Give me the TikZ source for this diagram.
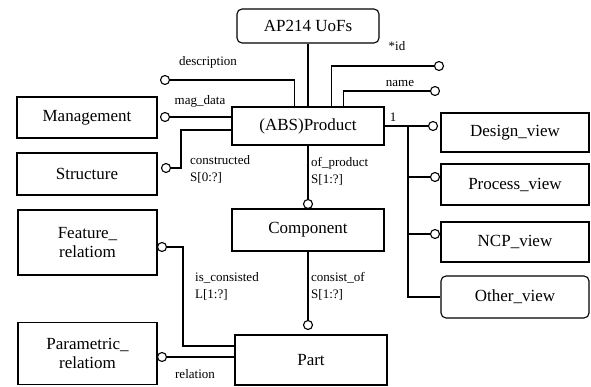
\documentclass[tikz,border=0pt]{standalone}
\usepackage{fontspec}
\setmainfont{Liberation Serif}
\usetikzlibrary{calc}
\begin{document}
\begin{tikzpicture}[x=1pt,y=-1pt,
  box/.style={draw, line width=1.1pt, inner sep=0pt, align=center,
    font=\fontsize{17}{19}\selectfont},
  rbox/.style={box, rounded corners=5pt},
  ring/.style={circle, draw, fill=white, line width=1.1pt, inner sep=0pt, minimum size=9pt},
  lbl/.style={font=\fontsize{13}{17}\selectfont, inner sep=0pt, align=left},
  conn/.style={line width=1.1pt}]
\useasboundingbox (0,0) rectangle (591,387);
% boxes
\node[rbox, minimum width=142pt, minimum height=34pt] (ap) at (308,26) {AP214 UoFs};
\node[box, minimum width=152pt, minimum height=38pt] (prod) at (308,126) {(ABS)Product};
\node[box, minimum width=140pt, minimum height=41pt] (mgmt) at (87,117.5) {Management};
\node[box, minimum width=140pt, minimum height=42pt] (struct) at (87,174) {Structure};
\node[box, minimum width=139pt, minimum height=65pt] (feat) at (87.5,242.5) {Feature\_\\relatiom};
\node[box, minimum width=139pt, minimum height=62pt] (param) at (87.5,353.5) {Parametric\_\\relatiom};
\node[box, minimum width=152pt, minimum height=42pt] (comp) at (308,230) {Component};
\node[box, minimum width=152pt, minimum height=50pt] (part) at (311,360) {Part};
\node[box, minimum width=148pt, minimum height=39pt] (design) at (515,132.5) {Design\_view};
\node[box, minimum width=148pt, minimum height=41pt] (proc) at (515,184.5) {Process\_view};
\node[box, minimum width=148pt, minimum height=40pt] (ncp) at (515,242) {NCP\_view};
\node[rbox, minimum width=148pt, minimum height=42pt] (other) at (515,297) {Other\_view};
% rings
\node[ring] (cdesc) at (165,80) {};
\node[ring] (cmag) at (165,117) {};
\node[ring] (cid) at (439,66) {};
\node[ring] (cname) at (435,91) {};
\node[ring] (cstruct) at (166,168) {};
\node[ring] (cofp) at (308,204) {};
\node[ring] (ccons) at (308,325) {};
\node[ring] (cfeat) at (162,247) {};
\node[ring] (cparam) at (162,357) {};
\node[ring] (cdesign) at (433,126) {};
\node[ring] (cproc) at (435,177) {};
\node[ring] (cncp) at (435,234) {};
% bus coordinates
\coordinate (bus1) at (408,126);
\coordinate (bus4) at (408,297);
% connectors
\draw[conn] (ap) -- (prod);
\draw[conn] (cdesc) -| ($(prod.north west)+(63,0)$);
\draw[conn] (cid) -| ($(prod.north west)+(100,0)$);
\draw[conn] (cname) -| ($(prod.north west)+(112,0)$);
\draw[conn] (cmag) -- (cmag -| prod.west);
\draw[conn] (cstruct) -- ++(15,0) |- ($(prod.west)+(0,4)$);
\draw[conn] (prod) -- (cofp);
\draw[conn] (comp) -- (ccons);
\draw[conn] (cfeat) -- ++(21,0) |- ($(part.west)+(0,-14)$);
\draw[conn] (cparam) -- (cparam -| part.west);
\draw[conn] (prod.east) -- (cdesign);
\draw[conn] (bus1) -- (bus4) -- (other.west);
\draw[conn] (bus1 |- cproc) -- (cproc);
\draw[conn] (bus1 |- cncp) -- (cncp);
% labels
\node[lbl] (ldesc) at (208,62) {description};
\node[lbl] (lmag) at (200,101) {mag\_data};
\node[lbl] (lid) at (397,46) {*id};
\node[lbl] (lname) at (400,84) {name};
\node[lbl] (lone) at (393,117) {1};
\node[lbl, anchor=north west] (lcons) at (190,155) {constructed\\S[0:?]};
\node[lbl, anchor=north west] (lofp) at (311,157) {of\_product\\S[1:?]};
\node[lbl, anchor=north west] (lisc) at (195,272) {is\_consisted\\L[1:?]};
\node[lbl, anchor=north west] (lcof) at (311,272) {consist\_of\\S[1:?]};
\node[lbl] (lrel) at (195,374) {relation};
\end{tikzpicture}
\end{document}
